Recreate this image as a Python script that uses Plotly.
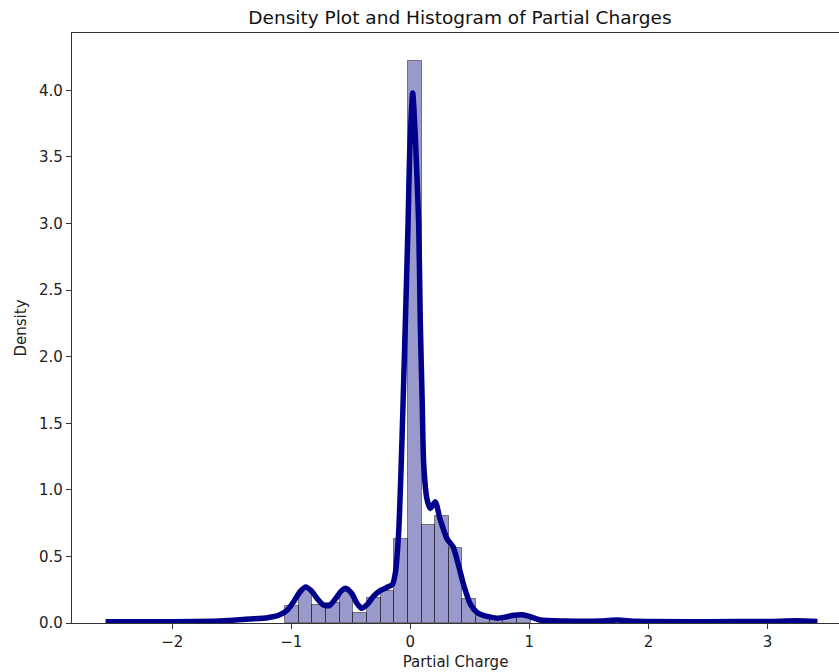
import plotly.graph_objects as go

# ---- Data ----
bin_start = -1.052
bin_width = 0.1146
hist_density = [0.125, 0.245, 0.137, 0.15, 0.235, 0.075, 0.188, 0.237, 0.63,
                4.22, 0.733, 0.806, 0.563, 0.18, 0.055, 0.04, 0.045, 0.055]

kde_x = [-2.56, -2.0, -1.6, -1.35, -1.2, -1.1, -1.03, -0.98, -0.93, -0.88,
         -0.83, -0.78, -0.73, -0.68, -0.63, -0.58, -0.54, -0.49, -0.45, -0.41,
         -0.36, -0.31, -0.25, -0.19, -0.15, -0.125, -0.098, -0.078, -0.061, -0.042,
         -0.019, -0.005, 0.02, 0.042, 0.07, 0.084, 0.1, 0.112, 0.14, 0.168,
         0.21, 0.25, 0.31, 0.36, 0.40, 0.45, 0.505, 0.56, 0.62, 0.67,
         0.73, 0.8, 0.87, 0.94, 1.0, 1.09, 1.3, 1.6, 1.74, 1.9,
         2.5, 3.0, 3.25, 3.42]
kde_y = [0.01, 0.01, 0.015, 0.03, 0.04, 0.06, 0.1, 0.16, 0.23, 0.27,
         0.24, 0.18, 0.135, 0.13, 0.18, 0.24, 0.26, 0.22, 0.15, 0.11,
         0.14, 0.2, 0.245, 0.27, 0.29, 0.38, 0.68, 1.15, 1.65, 2.25,
         3.0, 3.55, 3.98, 3.65, 3.0, 2.25, 1.65, 1.2, 0.93, 0.86,
         0.91, 0.78, 0.63, 0.57, 0.45, 0.28, 0.14, 0.08, 0.055, 0.045,
         0.036, 0.045, 0.058, 0.062, 0.05, 0.022, 0.015, 0.015, 0.022, 0.013,
         0.01, 0.012, 0.016, 0.012]

x_ticks = [-2, -1, 0, 1, 2, 3]
y_ticks = [0.0, 0.5, 1.0, 1.5, 2.0, 2.5, 3.0, 3.5, 4.0]

title_text = "Density Plot and Histogram of Partial Charges"
x_label = "Partial Charge"
y_label = "Density"

bin_centers = [bin_start + bin_width * (i + 0.5) for i in range(len(hist_density))]

font_family = "DejaVu Sans"

fig = go.Figure()
fig.add_trace(go.Bar(
    x=bin_centers, y=hist_density, width=[bin_width] * len(hist_density),
    marker=dict(color="rgba(0,0,128,0.4)",
                line=dict(color="rgba(0,0,0,0.45)", width=1)),
    showlegend=False, hoverinfo="skip",
))
fig.add_trace(go.Scatter(
    x=kde_x, y=kde_y, mode="lines",
    line=dict(color="#00008b", width=5.5, shape="spline", smoothing=0.6),
    showlegend=False,
))

fig.update_layout(
    width=839, height=672,
    margin=dict(l=72, r=0, t=33, b=49),
    paper_bgcolor="white", plot_bgcolor="white",
    font=dict(family=font_family, size=15, color="#222"),
    bargap=0,
    title=dict(text=title_text, x=460 / 839, xref="container", xanchor="center",
               y=1 - 18 / 672, yref="container", yanchor="middle",
               font=dict(size=18.5, color="#111", family=font_family)),
)
fig.update_xaxes(
    range=[-2.842, 3.601], tickvals=x_ticks, ticktext=[("\u2212" + str(-t)) if t < 0 else str(t) for t in x_ticks],
    showgrid=False, zeroline=False,
    showline=True, linecolor="#333", linewidth=1.2, mirror=True,
    ticks="outside", ticklen=5, tickwidth=1.2, tickcolor="#333",
    tickfont=dict(size=15, color="#222"),
    title=dict(text=x_label, font=dict(size=15, color="#222"), standoff=6),
)
fig.update_yaxes(
    range=[0, 4.431], tickvals=y_ticks, ticktext=[f"{t:.1f}" for t in y_ticks],
    showgrid=False, zeroline=False,
    showline=True, linecolor="#333", linewidth=1.2,
    ticks="outside", ticklen=5, tickwidth=1.2, tickcolor="#333",
    tickfont=dict(size=15, color="#222"),
    title=dict(text=y_label, font=dict(size=15, color="#222"), standoff=8),
)

fig.write_html("out.html")
